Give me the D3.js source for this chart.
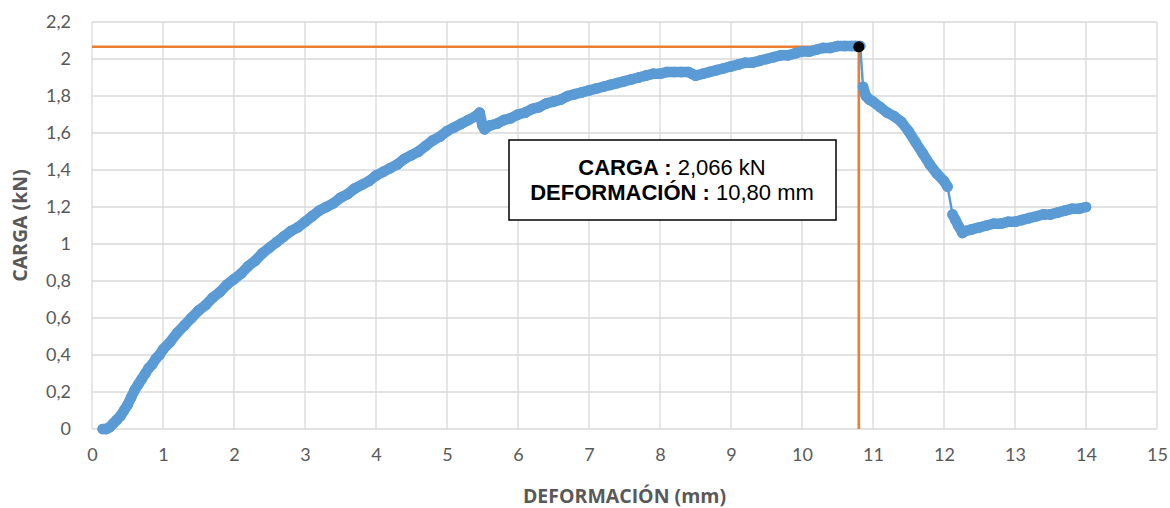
<!DOCTYPE html>
<html><head><meta charset="utf-8">
<script src="https://cdn.jsdelivr.net/npm/d3@7"></script>
<style>html,body{margin:0;padding:0;background:#fff;}svg{display:block;}</style>
</head><body>
<svg id="c" width="1170" height="508"></svg>
<script>
// Data
const deformacion = [0.15,0.2,0.25,0.3,0.35,0.4,0.45,0.5,0.55,0.6,0.65,0.7,0.75,0.8,0.85,0.9,0.95,1.0,1.1,1.2,1.3,1.4,1.5,1.6,1.7,1.8,1.9,2.0,2.1,2.2,2.3,2.4,2.5,2.6,2.7,2.8,2.9,3.0,3.1,3.2,3.3,3.4,3.5,3.6,3.7,3.8,3.9,4.0,4.1,4.2,4.3,4.4,4.5,4.6,4.7,4.8,4.9,5.0,5.1,5.2,5.3,5.4,5.46,5.5,5.53,5.6,5.7,5.8,5.9,6.0,6.1,6.2,6.3,6.4,6.5,6.6,6.7,6.8,6.9,7.0,7.1,7.2,7.3,7.4,7.5,7.6,7.7,7.8,7.9,8.0,8.1,8.2,8.3,8.4,8.45,8.5,8.6,8.7,8.8,8.9,9.0,9.1,9.2,9.3,9.4,9.5,9.6,9.7,9.8,9.9,10.0,10.1,10.2,10.3,10.4,10.5,10.6,10.7,10.75,10.82,10.86,10.9,10.95,11.0,11.1,11.2,11.3,11.4,11.5,11.6,11.7,11.8,11.9,12.0,12.05,12.12,12.16,12.2,12.26,12.3,12.4,12.5,12.6,12.7,12.8,12.9,13.0,13.1,13.2,13.3,13.4,13.5,13.6,13.7,13.8,13.9,14.0];
const carga = [0.0,0.0,0.01,0.03,0.05,0.07,0.10,0.13,0.17,0.21,0.24,0.27,0.30,0.33,0.35,0.38,0.40,0.43,0.47,0.52,0.56,0.60,0.64,0.67,0.71,0.74,0.78,0.81,0.84,0.88,0.91,0.95,0.98,1.01,1.04,1.07,1.09,1.12,1.15,1.18,1.20,1.22,1.25,1.27,1.30,1.32,1.34,1.37,1.39,1.41,1.43,1.46,1.48,1.50,1.53,1.56,1.58,1.61,1.63,1.65,1.67,1.69,1.71,1.64,1.62,1.64,1.65,1.67,1.68,1.70,1.71,1.73,1.74,1.76,1.77,1.78,1.80,1.81,1.82,1.83,1.84,1.85,1.86,1.87,1.88,1.89,1.90,1.91,1.92,1.92,1.93,1.93,1.93,1.93,1.92,1.91,1.92,1.93,1.94,1.95,1.96,1.97,1.98,1.98,1.99,2.00,2.01,2.02,2.02,2.03,2.04,2.04,2.05,2.06,2.06,2.07,2.07,2.07,2.07,2.07,1.85,1.80,1.78,1.77,1.74,1.71,1.69,1.66,1.61,1.55,1.49,1.43,1.38,1.34,1.31,1.16,1.13,1.10,1.06,1.07,1.08,1.09,1.10,1.11,1.11,1.12,1.12,1.13,1.14,1.15,1.16,1.16,1.17,1.18,1.19,1.19,1.20];
const xTicks = [0,1,2,3,4,5,6,7,8,9,10,11,12,13,14,15];
const yTicks = [0,0.2,0.4,0.6,0.8,1.0,1.2,1.4,1.6,1.8,2.0,2.2];
const peakX = 10.80, peakY = 2.066;
const xTitle = "DEFORMACIÓN (mm)", yTitle = "CARGA (kN)";
const labelLines = [["CARGA : ","2,066 kN"],["DEFORMACIÓN : ","10,80 mm"]];

const svg = d3.select("#c");
const L = 92, R = 1157, T = 22, B = 429;
const x = d3.scaleLinear().domain([0,15]).range([L,R]);
const y = d3.scaleLinear().domain([0,2.2]).range([B,T]);
const fmt = v => d3.format(".1f")(v).replace(".0","").replace(".",",");

// grid
const g = svg.append("g");
g.selectAll("line.v").data(xTicks).join("line")
  .attr("x1",d=>x(d)).attr("x2",d=>x(d)).attr("y1",T).attr("y2",B)
  .attr("stroke","#d9d9d9").attr("stroke-width",1.3);
g.selectAll("line.h").data(yTicks).join("line")
  .attr("y1",d=>y(d)).attr("y2",d=>y(d)).attr("x1",L).attr("x2",R)
  .attr("stroke","#d9d9d9").attr("stroke-width",1.3);

// axes labels via d3 axes
const xa = svg.append("g").attr("transform",`translate(0,${B})`)
  .call(d3.axisBottom(x).tickValues(xTicks).tickFormat(d=>String(d)).tickSize(0).tickPadding(19));
const ya = svg.append("g").attr("transform",`translate(${L},0)`)
  .call(d3.axisLeft(y).tickValues(yTicks).tickFormat(fmt).tickSize(0).tickPadding(21));
[xa,ya].forEach(a=>{
  a.select(".domain").remove();
  a.selectAll("text").attr("fill","#595959").style("font-family","Lato, 'Open Sans', sans-serif").style("font-size","18px");
});

// axis titles
svg.append("text").attr("x",(L+R)/2).attr("y",498).attr("text-anchor","middle").attr("dominant-baseline","middle")
  .attr("fill","#595959").style("font-family","'Open Sans', sans-serif").style("font-weight","bold").style("font-size","19.5px").text(xTitle);
svg.append("text").attr("transform",`translate(22,${(T+B)/2}) rotate(-90)`).attr("text-anchor","middle").attr("dominant-baseline","middle")
  .attr("fill","#595959").style("font-family","'Open Sans', sans-serif").style("font-weight","bold").style("font-size","19.5px").text(yTitle);

// orange guide lines
const guide = [[0,peakY],[peakX,peakY],[peakX,0]];
svg.append("path").datum(guide)
  .attr("d", d3.line().x(d=>x(d[0])).y(d=>y(d[1])))
  .attr("fill","none").attr("stroke","#ED7D31").attr("stroke-width",2.6);

// blue series: segments drawn thick where samples are dense, thin across jumps
const pts = deformacion.map((d,i)=>[d,carga[i]]);
const segs = d3.pairs(pts);
const segLen = s => Math.hypot(x(s[1][0])-x(s[0][0]), y(s[1][1])-y(s[0][1]));
svg.append("g").selectAll("line").data(segs).join("line")
  .attr("x1",s=>x(s[0][0])).attr("y1",s=>y(s[0][1]))
  .attr("x2",s=>x(s[1][0])).attr("y2",s=>y(s[1][1]))
  .attr("stroke","#5B9BD5").attr("stroke-linecap","round")
  .attr("stroke-width",s=>segLen(s) > 22 ? 2.5 : 10.5);
svg.append("g").selectAll("circle").data(pts).join("circle")
  .attr("cx",d=>x(d[0])).attr("cy",d=>y(d[1])).attr("r",5.3).attr("fill","#5B9BD5");

// peak marker
svg.append("circle").attr("cx",x(peakX)).attr("cy",y(peakY)).attr("r",5.5).attr("fill","#000");

// annotation box
svg.append("rect").attr("x",509).attr("y",140).attr("width",327).attr("height",80)
  .attr("fill","#fff").attr("stroke","#000").attr("stroke-width",1.5);
const t = svg.append("text").attr("text-anchor","middle")
  .style("font-family","'Liberation Sans', Arial, sans-serif").style("font-size","22px").attr("fill","#000");
labelLines.forEach((ln,i)=>{
  const row = t.append("tspan").attr("x",672).attr("y",174.5+i*25);
  row.append("tspan").style("font-weight","bold").text(ln[0]);
  row.append("tspan").text(ln[1]);
});
</script>
</body></html>
